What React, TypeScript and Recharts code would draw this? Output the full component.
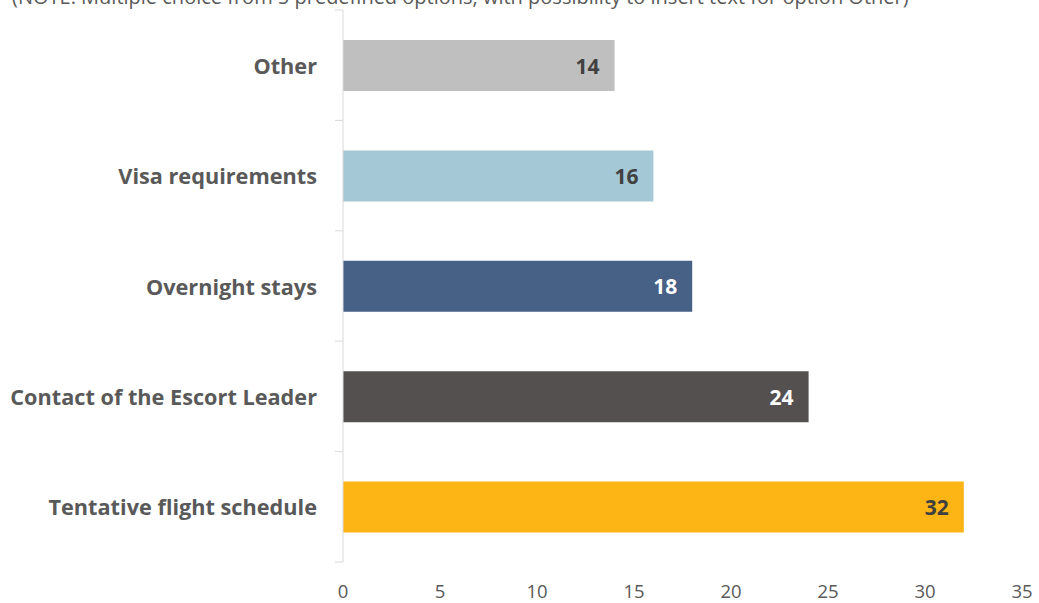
import React from "react";
import { BarChart, Bar, XAxis, YAxis, Cell, LabelList } from "recharts";

const categories = [
  "Other",
  "Visa requirements",
  "Overnight stays",
  "Contact of the Escort Leader",
  "Tentative flight schedule",
];
const counts = [14, 16, 18, 24, 32];
const barColors = ["#BFBFBF", "#A5C8D7", "#466086", "#545050", "#FDB515"];
const labelColors = ["#404040", "#404040", "#FFFFFF", "#FFFFFF", "#404040"];
const xTicks = [0, 5, 10, 15, 20, 25, 30, 35];
const note =
  "(NOTE: Multiple choice from 5 predefined options, with possibility to insert text for option Other)";

const data = categories.map((c, i) => ({ name: c, value: counts[i], idx: i }));

const FONT = "'Open Sans', sans-serif";
const W = 1039;
const H = 603;
const M = { top: 10, right: 17, bottom: 11, left: 0 };
const XH = 30;
const BAND = (H - M.top - M.bottom - XH) / categories.length;

const YTick = (props: any) => {
  const { x, y, payload, index } = props;
  const half = BAND / 2;
  return (
    <g>
      <text
        x={x - 18}
        y={y}
        textAnchor="end"
        dominantBaseline="central"
        fill="#595959"
        fontWeight={700}
        fontSize={21.7}
        fontFamily={FONT}
      >
        {payload.value}
      </text>
      <line x1={x} x2={x + 8} y1={y - half} y2={y - half} stroke="#D9D9D9" strokeWidth={1} />
      {index === categories.length - 1 && (
        <line x1={x} x2={x + 8} y1={y + half} y2={y + half} stroke="#D9D9D9" strokeWidth={1} />
      )}
    </g>
  );
};

const XTick = (props: any) => {
  const { x, y, payload } = props;
  return (
    <text
      x={x}
      y={y + 22}
      textAnchor="middle"
      dominantBaseline="central"
      fill="#595959"
      fontSize={18.5}
      fontFamily={FONT}
    >
      {payload.value}
    </text>
  );
};

const ValueLabel = (props: any) => {
  const { x, y, width, height, value, index } = props;
  return (
    <text
      x={x + width - 15}
      y={y + height / 2}
      textAnchor="end"
      dominantBaseline="central"
      fill={labelColors[index]}
      fontWeight={700}
      fontSize={21}
      fontFamily={FONT}
    >
      {value}
    </text>
  );
};

export default function App() {
  return (
    <div style={{ position: "fixed", left: 0, top: 0, width: W, height: H, background: "#fff", overflow: "hidden" }}>
      <div
        style={{
          position: "absolute",
          left: 12,
          top: -13,
          fontFamily: FONT,
          fontSize: 20,
          lineHeight: "20px",
          color: "#595959",
          whiteSpace: "nowrap",
        }}
      >
        {note}
      </div>
      <BarChart width={W} height={H} data={data} layout="vertical" margin={M} barCategoryGap={0}>
        <XAxis
          type="number"
          domain={[0, 35]}
          ticks={xTicks}
          height={XH}
          axisLine={false}
          tickLine={false}
          tick={<XTick />}
          tickMargin={0}
        />
        <YAxis
          type="category"
          dataKey="name"
          width={343}
          axisLine={{ stroke: "#D9D9D9" }}
          tickLine={false}
          tick={<YTick />}
          interval={0}
        />
        <Bar dataKey="value" barSize={51} isAnimationActive={false}>
          {data.map((d, i) => (
            <Cell key={i} fill={barColors[i]} />
          ))}
          <LabelList dataKey="value" content={<ValueLabel />} />
        </Bar>
      </BarChart>
    </div>
  );
}
